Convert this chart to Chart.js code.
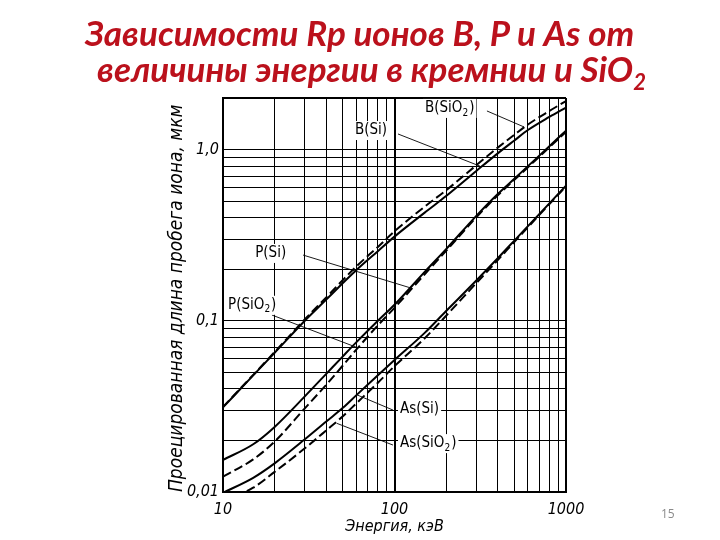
<!DOCTYPE html>
<html><head><meta charset="utf-8">
<script src="https://cdn.jsdelivr.net/npm/chart.js@4"></script>
<style>
html,body{margin:0;padding:0;background:#fff;width:720px;height:540px;overflow:hidden;}
#wrap{position:relative;width:720px;height:540px;}
canvas{position:absolute;left:0;top:0;}
.t{position:absolute;font-family:Lato,'Open Sans',sans-serif;font-weight:700;font-style:italic;font-size:35px;line-height:35px;color:#bb111c;white-space:nowrap;}
.t sub{font-size:22px;line-height:0;vertical-align:-8px;}
#pg{position:absolute;left:661px;top:505px;font-family:'Open Sans',sans-serif;font-size:12px;color:#8a8a8a;}
</style></head>
<body><div id="wrap">
<canvas id="c" width="720" height="540"></canvas>
<div class="t" id="t1" style="left:85px;top:15px;">Зависимости Rp ионов B, P и As от</div>
<div class="t" id="t2" style="left:97px;top:51px;">величины энергии в кремнии и SiO<sub>2</sub></div>
<div id="pg">15</div>
</div>
<script>
// ---- data (energy, keV; projected range, µm) ----
const energies = [10, 15, 20, 30, 40, 50, 60, 80, 100, 150, 200, 300, 400, 500, 600, 800, 1000];
const B_Si    = [0.0312, 0.048, 0.065, 0.100, 0.133, 0.166, 0.198, 0.255, 0.310, 0.428, 0.535, 0.750, 0.950, 1.13, 1.30, 1.55, 1.76];
const B_SiO2  = [0.0314, 0.0483, 0.0657, 0.102, 0.137, 0.173, 0.208, 0.270, 0.333, 0.464, 0.578, 0.810, 1.026, 1.22, 1.40, 1.68, 1.92];
const P_Si    = [0.0154, 0.0190, 0.0240, 0.0362, 0.049, 0.062, 0.075, 0.100, 0.124, 0.193, 0.262, 0.410, 0.550, 0.675, 0.800, 1.045, 1.29];
const P_SiO2  = [0.0123, 0.0155, 0.0197, 0.0308, 0.0423, 0.0548, 0.068, 0.094, 0.119, 0.187, 0.256, 0.402, 0.540, 0.665, 0.788, 1.03, 1.27];
const As_Si   = [0.0099, 0.0121, 0.0147, 0.0203, 0.0258, 0.031, 0.0368, 0.048, 0.059, 0.085, 0.114, 0.172, 0.232, 0.294, 0.357, 0.485, 0.615];
const As_SiO2 = [0.0088, 0.0106, 0.0131, 0.0180, 0.0229, 0.0277, 0.033, 0.0435, 0.0543, 0.079, 0.107, 0.166, 0.226, 0.289, 0.352, 0.480, 0.610];

const xTicks = [10,20,30,40,50,60,70,80,90,100,200,300,400,500,600,700,800,900,1000];
const yTicks = [0.01,0.02,0.03,0.04,0.05,0.06,0.07,0.08,0.09,0.1,0.2,0.3,0.4,0.5,0.6,0.7,0.8,0.9,1,2];
const xTickLabels = {10:'10', 100:'100', 1000:'1000'};
const yTickLabels = {0.01:'0,01', 0.1:'0,1', 1:'1,0'};

const xTitle = 'Энергия, кэВ';
const yTitle = 'Проецированная длина пробега иона, мкм';

// curve labels: text, anchor of text (E, R), leader line start and end (E, R)
const curveLabels = [
  {name:'B(SiO', sub:'2', tail:')', at:[150.6,1.75], from:[346,1.68], to:[569,1.355]},
  {name:'B(Si)', sub:'', tail:'', at:[58.8,1.30], from:[104.8,1.233], to:[315,0.80]},
  {name:'P(Si)', sub:'', tail:'', at:[15.4,0.249], from:[29.3,0.242], to:[123,0.156]},
  {name:'P(SiO', sub:'2', tail:')', at:[10.7,0.124], from:[19.3,0.108], to:[60,0.070]},
  {name:'As(Si)', sub:'', tail:'', at:[107.7,0.0305], from:[98,0.0301], to:[60.5,0.0369]},
  {name:'As(SiO', sub:'2', tail:')', at:[107.7,0.0193], from:[98,0.0188], to:[46,0.0252]}
];

const FONT = "'DejaVu Sans Condensed', 'DejaVu Sans', sans-serif";
Chart.defaults.font.family = FONT;
Chart.defaults.color = '#000';

function pts(arr){ return energies.map((e,i)=>({x:e, y:arr[i]})); }
function ds(label, arr, dashed){
  return {label, data: pts(arr), borderColor:'#000', borderWidth: 2, pointRadius: 0,
          borderDash: dashed ? [9,4] : [], cubicInterpolationMode:'monotone', fill:false};
}

const labelPlugin = {
  id:'curveLabels',
  afterDatasetsDraw(chart){
    const {ctx, scales:{x, y}} = chart;
    ctx.save();
    const f = '15px ' + FONT, fs = '10px ' + FONT;
    curveLabels.forEach(l=>{
      ctx.strokeStyle = '#000'; ctx.lineWidth = 0.9; ctx.setLineDash([]);
      ctx.beginPath();
      ctx.moveTo(x.getPixelForValue(l.from[0]), y.getPixelForValue(l.from[1]));
      ctx.lineTo(x.getPixelForValue(l.to[0]), y.getPixelForValue(l.to[1]));
      ctx.stroke();
      const px = x.getPixelForValue(l.at[0]), py = y.getPixelForValue(l.at[1]);
      ctx.font = f; const w1 = ctx.measureText(l.name).width;
      ctx.font = fs; const w2 = l.sub ? ctx.measureText(l.sub).width + 1 : 0;
      ctx.font = f; const w3 = ctx.measureText(l.tail).width;
      const w = w1 + w2 + w3;
      ctx.fillStyle = '#fff';
      ctx.fillRect(px - 2, py - 9, w + 4, 19);
      ctx.fillStyle = '#000';
      ctx.textBaseline = 'middle'; ctx.textAlign = 'left';
      ctx.font = f; ctx.fillText(l.name, px, py);
      if (l.sub){ ctx.font = fs; ctx.fillText(l.sub, px + w1, py + 5); }
      ctx.font = f; ctx.fillText(l.tail, px + w1 + w2, py);
    });
    ctx.restore();
  }
};

new Chart(document.getElementById('c'), {
  type: 'line',
  data: {
    datasets: [
      ds('B(Si)', B_Si, false),
      ds('B(SiO2)', B_SiO2, true),
      ds('P(Si)', P_Si, false),
      ds('P(SiO2)', P_SiO2, true),
      ds('As(Si)', As_Si, false),
      ds('As(SiO2)', As_SiO2, true)
    ]
  },
  options: {
    responsive: false, animation: false,
    layout: {padding: {left:160, top:98, right:154, bottom:0}},
    plugins: {legend:{display:false}, tooltip:{enabled:false}, title:{display:false}},
    scales: {
      x: {
        type:'logarithmic', min:10, max:1000,
        afterBuildTicks: s => { s.ticks = xTicks.map(v=>({value:v})); },
        afterFit: s => { s.height = 48; },
        ticks: {autoSkip:false, maxRotation:0, padding:8, font:{size:16, style:'italic'},
                callback: v => xTickLabels[v] || ''},
        grid: {color:'#000', drawTicks:false,
               lineWidth: c => (c.tick && (c.tick.value===100 || c.tick.value===1000)) ? 2 : 1},
        border: {display:true, color:'#000', width:2},
        title: {display:true, text:xTitle, font:{size:16, style:'italic'}, padding:{top:0,bottom:4}}
      },
      y: {
        type:'logarithmic', min:0.01, max:2,
        afterBuildTicks: s => { s.ticks = yTicks.map(v=>({value:v})); },
        afterFit: s => { s.width = 63; },
        ticks: {autoSkip:false, padding:4, font:{size:16, style:'italic'},
                callback: v => yTickLabels[v] || ''},
        grid: {color:'#000', drawTicks:false,
               lineWidth: c => (c.tick && c.tick.value===2) ? 2 : 1},
        border: {display:true, color:'#000', width:2},
        title: {display:true, text:yTitle, align:'start', font:{size:19, style:'italic'}, padding:{top:6,bottom:0}}
      }
    }
  },
  plugins: [labelPlugin]
});
</script>
</body></html>
